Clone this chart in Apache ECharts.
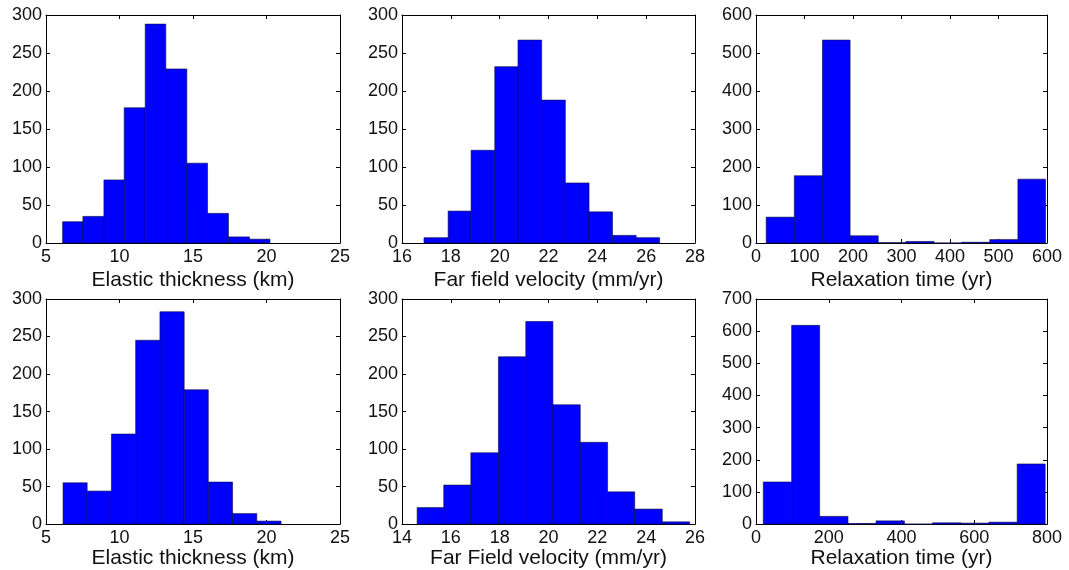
<!DOCTYPE html>
<html>
<head>
<meta charset="utf-8">
<script src="https://cdn.jsdelivr.net/npm/echarts@6/dist/echarts.min.js"></script>
<style>
  html, body { margin: 0; padding: 0; background: #fff; }
  #chart { width: 1069px; height: 570px; }
</style>
</head>
<body>
<div id="chart"></div>
<script>
// Histogram bin edges and counts for each panel (top row, then bottom row)
const thicknessEdgesTop = [6.13, 7.51, 8.94, 10.32, 11.75, 13.15, 14.58, 15.99, 17.41, 18.84, 20.24];
const thicknessCountsTop = [28, 35, 83, 178, 288, 229, 105, 39, 8, 5];

const velocityEdgesTop = [16.90, 17.89, 18.83, 19.80, 20.75, 21.72, 22.69, 23.66, 24.62, 25.59, 26.55];
const velocityCountsTop = [7, 42, 122, 232, 267, 188, 79, 41, 10, 7];

const relaxEdgesTop = [21, 79, 137, 194, 252, 309, 367, 424, 482, 540, 597];
const relaxCountsTop = [68, 177, 534, 19, 1, 4, 0, 2, 9, 168];

const thicknessEdgesBottom = [6.16, 7.80, 9.45, 11.10, 12.75, 14.40, 16.04, 17.69, 19.34, 20.99];
const thicknessCountsBottom = [55, 44, 120, 245, 283, 179, 56, 14, 4];

const velocityEdgesBottom = [14.62, 15.71, 16.82, 17.95, 19.07, 20.18, 21.30, 22.42, 23.53, 24.66, 25.78];
const velocityCountsBottom = [22, 52, 95, 223, 270, 159, 109, 43, 20, 3];

const relaxEdgesBottom = [20, 98, 175, 253, 330, 408, 485, 563, 640, 718, 795];
const relaxCountsBottom = [131, 618, 24, 2, 10, 0, 4, 3, 6, 187];

// Axis ranges as [min, max, step]
const thicknessXTicks = [5, 25, 5];
const velocityXTicksTop = [16, 28, 2];
const relaxXTicksTop = [0, 600, 100];
const velocityXTicksBottom = [14, 26, 2];
const relaxXTicksBottom = [0, 800, 200];
const countTicks300 = [0, 300, 50];
const countTicks600 = [0, 600, 100];
const countTicks700 = [0, 700, 100];

// Axis titles
const titles = [
  'Elastic thickness (km)', 'Far field velocity (mm/yr)', 'Relaxation time (yr)',
  'Elastic thickness (km)', 'Far Field velocity (mm/yr)', 'Relaxation time (yr)'
];

const FONT = '"Liberation Sans", Arial, Helvetica, sans-serif';
const INK = '#111';

const panels = [
  { grid: { left: 46, top: 15, width: 294, height: 228 }, x: thicknessXTicks, y: countTicks300,
    edges: thicknessEdgesTop, counts: thicknessCountsTop, gap: 27 },
  { grid: { left: 402, top: 15, width: 293, height: 228 }, x: velocityXTicksTop, y: countTicks300,
    edges: velocityEdgesTop, counts: velocityCountsTop, gap: 27 },
  { grid: { left: 756, top: 15, width: 291, height: 228 }, x: relaxXTicksTop, y: countTicks600,
    edges: relaxEdgesTop, counts: relaxCountsTop, gap: 27 },
  { grid: { left: 46, top: 299, width: 294, height: 228 }, x: thicknessXTicks, y: countTicks300,
    edges: thicknessEdgesBottom, counts: thicknessCountsBottom, gap: 23 },
  { grid: { left: 402, top: 299, width: 293, height: 228 }, x: velocityXTicksBottom, y: countTicks300,
    edges: velocityEdgesBottom, counts: velocityCountsBottom, gap: 23 },
  { grid: { left: 756, top: 299, width: 291, height: 228 }, x: relaxXTicksBottom, y: countTicks700,
    edges: relaxEdgesBottom, counts: relaxCountsBottom, gap: 23 }
];

const axisLine = { show: true, onZero: false, lineStyle: { color: '#000', width: 1 } };
const tickIn = { show: true, inside: true, length: 4, lineStyle: { color: '#000', width: 1 } };
const labelStyle = { color: INK, fontSize: 18, fontFamily: FONT };

const grids = [], xAxes = [], yAxes = [], series = [];

panels.forEach((p, i) => {
  grids.push(Object.assign({ containLabel: false, show: false }, p.grid));
  const [xmin, xmax, xstep] = p.x;
  const [ymin, ymax, ystep] = p.y;

  // bottom axis with labels and title
  xAxes.push({
    type: 'value', gridIndex: i, position: 'bottom', min: xmin, max: xmax, interval: xstep,
    axisLine, axisTick: tickIn, splitLine: { show: false },
    axisLabel: Object.assign({ margin: 5 }, labelStyle),
    name: titles[i], nameLocation: 'middle', nameGap: p.gap,
    nameTextStyle: { color: INK, fontSize: 21, fontFamily: FONT }
  });
  // mirrored top axis (box)
  xAxes.push({
    type: 'value', gridIndex: i, position: 'top', min: xmin, max: xmax, interval: xstep,
    axisLine, axisTick: tickIn, splitLine: { show: false }, axisLabel: { show: false }
  });
  // left axis with labels
  yAxes.push({
    type: 'value', gridIndex: i, position: 'left', min: ymin, max: ymax, interval: ystep,
    axisLine, axisTick: tickIn, splitLine: { show: false },
    axisLabel: Object.assign({ margin: 4 }, labelStyle)
  });
  // mirrored right axis (box)
  yAxes.push({
    type: 'value', gridIndex: i, position: 'right', min: ymin, max: ymax, interval: ystep,
    axisLine, axisTick: tickIn, splitLine: { show: false }, axisLabel: { show: false }
  });

  const data = p.counts.map((c, k) => [p.edges[k], p.edges[k + 1], c]);
  series.push({
    type: 'custom',
    xAxisIndex: i * 2,
    yAxisIndex: i * 2,
    encode: { x: [0, 1], y: 2 },
    data,
    renderItem: (params, api) => {
      const topLeft = api.coord([api.value(0), api.value(2)]);
      const bottomRight = api.coord([api.value(1), 0]);
      return {
        type: 'rect',
        shape: {
          x: topLeft[0], y: topLeft[1],
          width: bottomRight[0] - topLeft[0],
          height: bottomRight[1] - topLeft[1]
        },
        style: { fill: '#0000ff', stroke: '#0a0a40', lineWidth: 0.6 }
      };
    }
  });
});

const chart = echarts.init(document.getElementById('chart'), null, { renderer: 'canvas' });
chart.setOption({
  animation: false,
  backgroundColor: '#fff',
  grid: grids,
  xAxis: xAxes,
  yAxis: yAxes,
  series
});
</script>
</body>
</html>
